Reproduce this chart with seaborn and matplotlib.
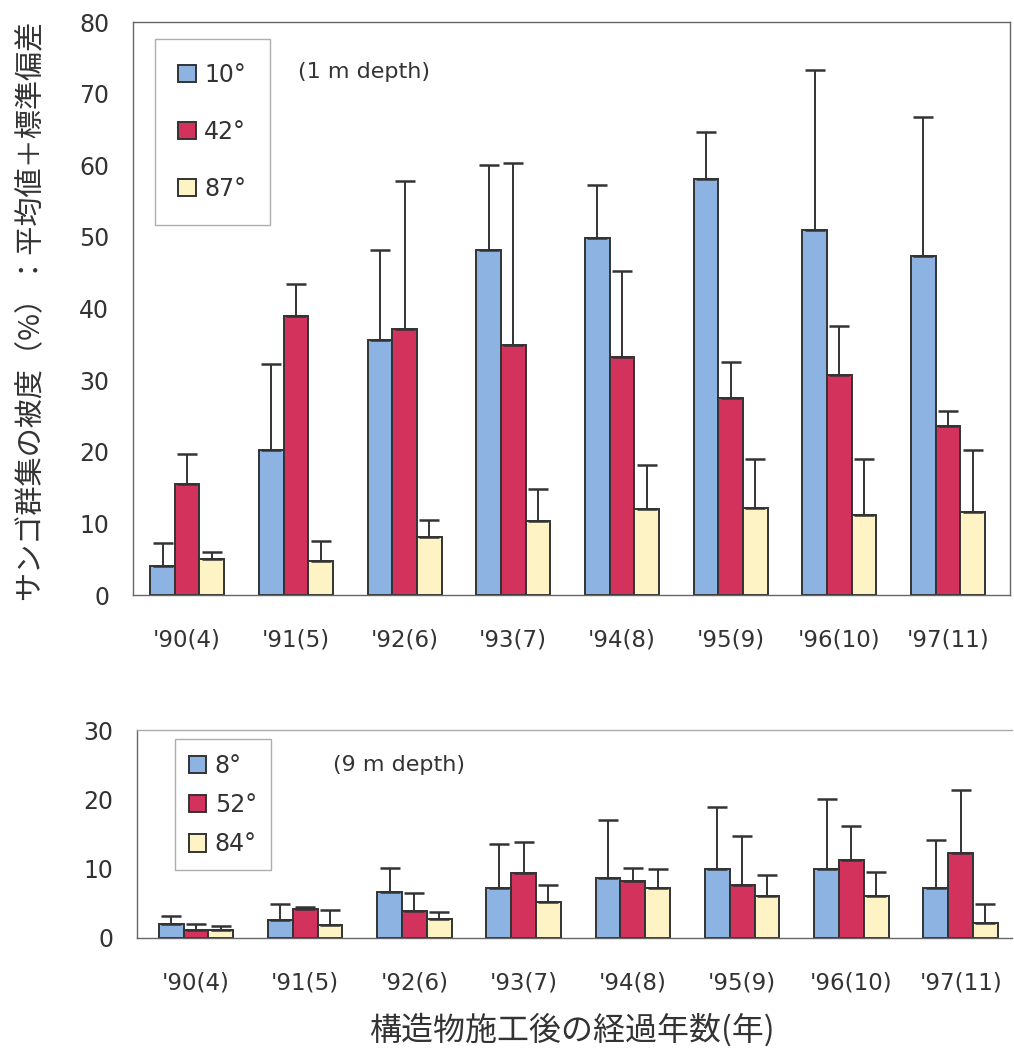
"""Coral coverage by structure slope angle, 1 m and 9 m depth."""

import matplotlib.pyplot as plt
import numpy as np
import pandas as pd
import seaborn as sns
from matplotlib.ticker import FixedLocator

YEARS = ["'90(4)", "'91(5)", "'92(6)", "'93(7)", "'94(8)", "'95(9)", "'96(10)", "'97(11)"]

# 1 m depth: mean and mean+SD (top of error bar)
SHALLOW_LEVELS = ["10°", "42°", "87°"]
SHALLOW_MEAN = {
    "10°": [4.0, 20.2, 35.6, 48.2, 49.8, 58.1, 51.0, 47.3],
    "42°": [15.5, 39.0, 37.2, 34.9, 33.3, 27.5, 30.7, 23.6],
    "87°": [5.0, 4.8, 8.1, 10.3, 12.0, 12.1, 11.2, 11.6],
}
SHALLOW_TOP = {
    "10°": [7.2, 32.2, 48.2, 60.0, 57.2, 64.6, 73.3, 66.8],
    "42°": [19.7, 43.5, 57.8, 60.3, 45.3, 32.5, 37.5, 25.7],
    "87°": [6.0, 7.5, 10.5, 14.8, 18.2, 19.0, 19.0, 20.3],
}

# 9 m depth
DEEP_LEVELS = ["8°", "52°", "84°"]
DEEP_MEAN = {
    "8°": [2.0, 2.6, 6.6, 7.2, 8.7, 9.9, 10.0, 7.2],
    "52°": [1.1, 4.2, 3.9, 9.4, 8.2, 7.7, 11.2, 12.2],
    "84°": [1.1, 1.9, 2.7, 5.2, 7.2, 6.0, 6.1, 2.1],
}
DEEP_TOP = {
    "8°": [3.2, 4.9, 10.1, 13.6, 17.0, 18.9, 20.0, 14.2],
    "52°": [2.0, 4.5, 6.5, 13.9, 10.1, 14.7, 16.1, 21.3],
    "84°": [1.7, 4.0, 3.8, 7.6, 9.9, 9.1, 9.5, 4.9],
}

COLORS = ["#8db3e2", "#d2325c", "#fdf3c4"]
JP_FONT = ["Noto Sans CJK JP", "DejaVu Sans"]


def to_long(levels, mean, top):
    rows = []
    for lvl in levels:
        for yr, m, t in zip(YEARS, mean[lvl], top[lvl]):
            rows.append({"year": yr, "angle": lvl, "value": m, "top": t})
    return pd.DataFrame(rows)


def draw_panel(ax, df, levels, ymax, step, xlim, note, note_xy, legend_kw):
    sns.barplot(data=df, x="year", y="value", hue="angle", hue_order=levels,
                order=YEARS, palette=COLORS, width=0.68, errorbar=None,
                edgecolor="#333333", linewidth=1.4, saturation=1, ax=ax)
    # upper-only error bars (mean + SD)
    for lvl, cont in zip(levels, ax.containers):
        sub = df[df["angle"] == lvl].set_index("year").loc[YEARS]
        xs = [p.get_x() + p.get_width() / 2 for p in cont.patches]
        err = sub["top"].to_numpy() - sub["value"].to_numpy()
        ax.errorbar(xs, sub["value"], yerr=[np.zeros_like(err), err], fmt="none",
                    ecolor="#333333", elinewidth=1.4, capsize=7.5, capthick=1.8, zorder=3)

    ax.set_ylim(0, ymax)
    ax.set_xlim(*xlim)
    ax.set_yticks(np.arange(0, ymax + 1, step))
    ax.set_xlabel("")
    ax.set_ylabel("")
    ax.xaxis.set_minor_locator(FixedLocator(np.arange(0.5, len(YEARS) - 0.5, 1)))
    ax.tick_params(axis="x", which="major", length=0, pad=24, labelsize=16.5, labelcolor="#333333")
    ax.tick_params(axis="x", which="minor", length=4, direction="in", color="#888888")
    ax.tick_params(axis="y", length=5, color="#888888", pad=12, labelsize=17, labelcolor="#333333")
    for side in ["left", "top", "right", "bottom"]:
        ax.spines[side].set_color("#666666")
        ax.spines[side].set_linewidth(1.0)

    handles, labels = ax.get_legend_handles_labels()
    leg = ax.legend(handles, labels, loc="upper left", frameon=True, fancybox=False,
                    edgecolor="#999999", fontsize=17, handlelength=0.75, handleheight=0.75,
                    handletextpad=0.35, **legend_kw)
    leg.get_frame().set_linewidth(1.0)
    for t in leg.get_texts():
        t.set_color("#333333")
    ax.text(note_xy[0], note_xy[1], note, transform=ax.transAxes,
            fontsize=16, color="#333333", va="center")


def main() -> None:
    sns.set_theme(style="white")
    plt.rcParams["font.family"] = ["DejaVu Sans"]

    top_df = to_long(SHALLOW_LEVELS, SHALLOW_MEAN, SHALLOW_TOP)
    bot_df = to_long(DEEP_LEVELS, DEEP_MEAN, DEEP_TOP)

    fig = plt.figure(figsize=(10.14, 10.55), dpi=100)
    ax1 = fig.add_axes([0.131, 0.436, 0.865, 0.543])
    ax2 = fig.add_axes([0.135, 0.111, 0.863, 0.197])

    kw1 = {"labelspacing": 1.4, "borderpad": 1.0, "borderaxespad": 0,
           "bbox_to_anchor": (0.025, 0.97)}
    draw_panel(ax1, top_df, SHALLOW_LEVELS, 80, 10, (-0.5, 7.57),
               "(1 m depth)", (0.188, 0.913), kw1)

    kw2 = {"labelspacing": 0.65, "borderpad": 0.6, "borderaxespad": 0,
           "bbox_to_anchor": (0.043, 0.955)}
    draw_panel(ax2, bot_df, DEEP_LEVELS, 30, 10, (-0.54, 7.47),
               "(9 m depth)", (0.224, 0.83), kw2)
    ax2.spines["right"].set_visible(False)
    ax2.spines["top"].set_color("#aaaaaa")

    fig.text(0.03, 0.706, "サンゴ群集の被度（%）：平均値＋標準偏差", rotation=90,
             ha="center", va="center", fontsize=21, color="#333333", family=JP_FONT)
    fig.text(0.564, 0.024, "構造物施工後の経過年数(年)", ha="center", va="center",
             fontsize=23, color="#333333", family=JP_FONT)

    fig.savefig("out.png", dpi=100, facecolor="white")
    plt.close(fig)


if __name__ == "__main__":
    main()
